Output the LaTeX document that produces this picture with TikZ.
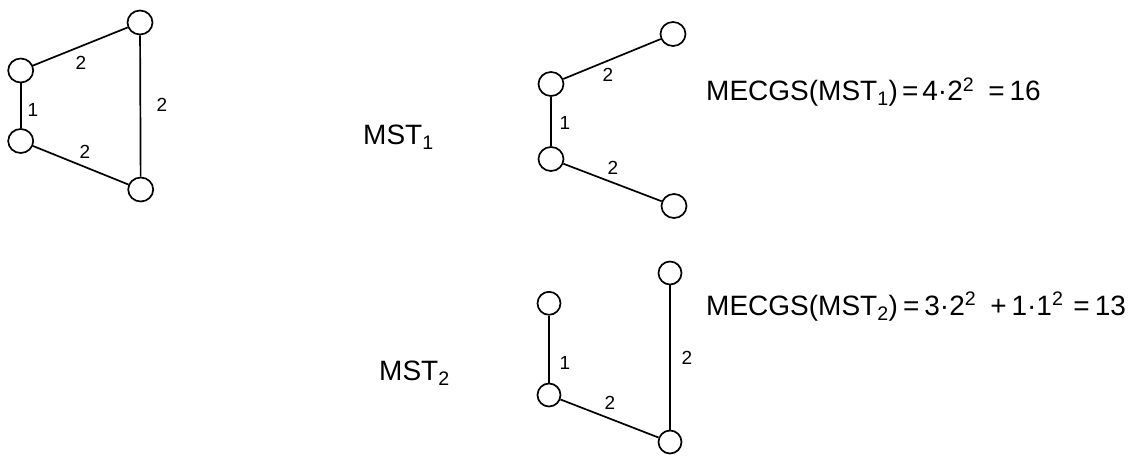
\documentclass[tikz,border=0pt]{standalone}
\usepackage{fontspec}
\setmainfont{Liberation Sans}
\usetikzlibrary{shapes.geometric}
\tikzset{
  vbig/.style={ellipse, draw, line width=1.7pt, inner sep=0pt, minimum width=25pt, minimum height=24pt},
  vmid/.style={ellipse, draw, line width=1.7pt, inner sep=0pt, minimum width=25pt, minimum height=24pt},
  vsmall/.style={ellipse, draw, line width=1.7pt, inner sep=0pt, minimum width=23pt, minimum height=23pt},
  edge/.style={line width=1.7pt},
  wlab/.style={font=\fontsize{19}{19}\selectfont, inner sep=0pt},
  title/.style={font=\fontsize{28}{28}\selectfont, inner sep=0pt, anchor=base west},
  formula/.style={font=\fontsize{28}{28}\selectfont, inner sep=0pt, anchor=base west}
}
\begin{document}
\begin{tikzpicture}[x=1pt, y=-1pt]
\useasboundingbox (0,0) rectangle (1139,457);

% original graph
\node[vbig] (a) at (140,22.5) {};
\node[vbig] (b) at (20.7,70.5) {};
\node[vbig] (c) at (20.7,141) {};
\node[vbig] (d) at (140.7,189.5) {};
\draw[edge] (b) -- (a);
\draw[edge] (b) -- (c);
\draw[edge] (c) -- (d);
\draw[edge] (a) -- (d);
\node[wlab] (la) at (81,63) {2};
\node[wlab] (lb) at (33,110) {1};
\node[wlab] (lc) at (162,105) {2};
\node[wlab] (ld) at (85,152) {2};

% first spanning tree
\node[title] (t1) at (363,145) {MST\textsubscript{1}};
\node[vmid] (e) at (673,34) {};
\node[vmid] (f) at (551,84) {};
\node[vmid] (g) at (551,159) {};
\node[vmid] (h) at (674,206) {};
\draw[edge] (f) -- (e);
\draw[edge] (f) -- (g);
\draw[edge] (g) -- (h);
\node[wlab] (le) at (608,75) {2};
\node[wlab] (lf) at (565,123) {1};
\node[wlab] (lg) at (613,168) {2};
\node[formula] (f1) at (706,101) {MECGS(MST\textsubscript{1})\hspace{4pt}=\hspace{4pt}4·2\textsuperscript{2}\hspace{14pt}=\hspace{5pt}16};

% second spanning tree
\node[title] (t2) at (379,380) {MST\textsubscript{2}};
\node[vsmall] (i) at (670,273) {};
\node[vsmall] (j) at (549,303.3) {};
\node[vsmall] (k) at (549,395) {};
\node[vsmall] (l) at (670,442) {};
\draw[edge] (j) -- (k);
\draw[edge] (k) -- (l);
\draw[edge] (i) -- (l);
\node[wlab] (li) at (565,363.3) {1};
\node[wlab] (lj) at (687,358.3) {2};
\node[wlab] (lk) at (610,403.3) {2};
\node[formula] (f2) at (706,315) {MECGS(MST\textsubscript{2})\hspace{5pt}=\hspace{5pt}3·2\textsuperscript{2}\hspace{14pt}+\hspace{5pt}1·1\textsuperscript{2}\hspace{10pt}=\hspace{5pt}13};
\end{tikzpicture}
\end{document}
